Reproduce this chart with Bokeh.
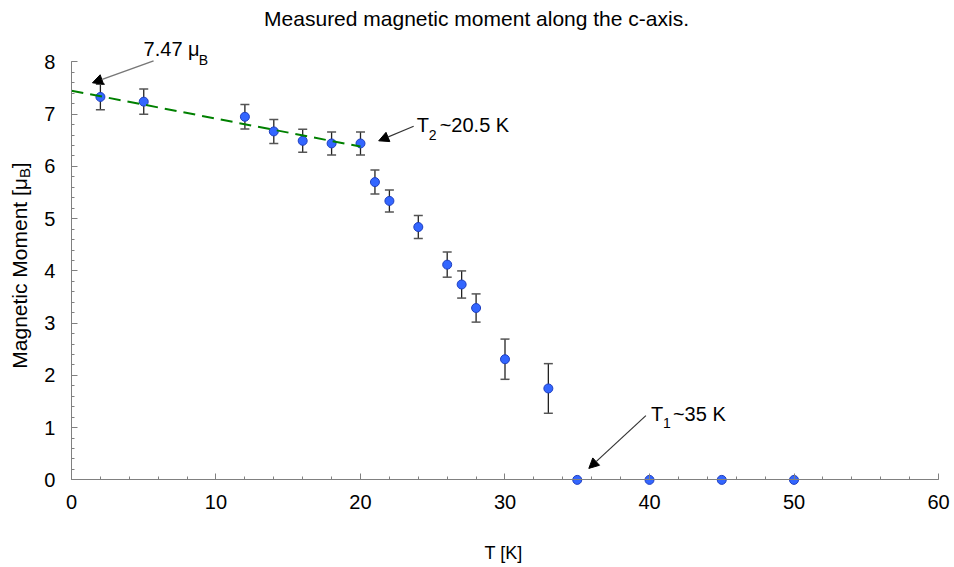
import numpy as np
from bokeh.plotting import figure
from bokeh.models import (ColumnDataSource, Whisker, TeeHead, Arrow, NormalHead, Label,
                          SingleIntervalTicker, Range1d)
from bokeh.embed import file_html
from bokeh.resources import INLINE

# ---- data ----
temperature = [2, 5, 12, 14, 16, 18, 20, 21, 22, 24, 26, 27, 28, 30, 33, 35, 40, 45, 50]
moment = [7.33, 7.24, 6.95, 6.67, 6.49, 6.44, 6.44, 5.70, 5.34, 4.84, 4.12, 3.74, 3.29,
          2.31, 1.75, 0.0, 0.0, 0.0, 0.0]
moment_err = [0.245, 0.24, 0.235, 0.23, 0.22, 0.22, 0.22, 0.23, 0.21, 0.22, 0.24, 0.26, 0.27,
              0.385, 0.475, 0.0, 0.0, 0.0, 0.0]
fit_T = [0, 20]
fit_moment = [7.45, 6.38]

FONT = "Liberation Sans"

# The frame covers the whole canvas; axes are pinned at the origin with bounds.
p = figure(width=954, height=567, x_range=Range1d(-4.913, 61.107), y_range=Range1d(-1.677, 9.176),
           output_backend="svg", toolbar_location=None,
           min_border_left=0, min_border_right=0, min_border_top=0, min_border_bottom=0)
p.outline_line_color = None
p.xgrid.visible = False
p.ygrid.visible = False
p.background_fill_color = "white"
p.border_fill_color = "white"

p.xaxis.ticker = SingleIntervalTicker(interval=10, num_minor_ticks=5)
p.yaxis.ticker = SingleIntervalTicker(interval=1, num_minor_ticks=5)
p.xaxis.fixed_location = 0
p.yaxis.fixed_location = 0
p.xaxis.bounds = (0, 60)
p.yaxis.bounds = (0, 8)
for ax in (p.xaxis[0], p.yaxis[0]):
    ax.axis_line_color = "#808080"
    ax.major_tick_line_color = "#808080"
    ax.minor_tick_line_color = "#808080"
    ax.major_tick_in = 6
    ax.major_tick_out = 0
    ax.minor_tick_in = 3
    ax.minor_tick_out = 0
    ax.major_label_text_font = FONT
    ax.major_label_text_font_size = "20px"
    ax.major_label_text_color = "black"
p.xaxis.major_label_standoff = 15
p.yaxis.major_label_standoff = 16

# error bars
err_T = [t for t, e in zip(temperature, moment_err) if e > 0]
err_up = [m + e for m, e in zip(moment, moment_err) if e > 0]
err_lo = [m - e for m, e in zip(moment, moment_err) if e > 0]
esrc = ColumnDataSource(dict(x=err_T, upper=err_up, lower=err_lo))
p.add_layout(Whisker(base="x", upper="upper", lower="lower", source=esrc,
                     line_color="#222222", line_width=1.3,
                     upper_head=TeeHead(size=9, line_color="#555555", line_width=1.5),
                     lower_head=TeeHead(size=9, line_color="#555555", line_width=1.5)))

src = ColumnDataSource(dict(x=temperature, y=moment))
p.scatter("x", "y", source=src, size=9, fill_color="#3366FF", line_color="#1f3fbf", line_width=1)

p.line(fit_T, fit_moment, line_color="#008000", line_width=2, line_dash="12 7")

# arrows
p.add_layout(Arrow(x_start=5.68, y_start=8.02, x_end=1.45, y_end=7.60,
                   line_color="#777777", line_width=1.5,
                   end=NormalHead(size=10, fill_color="black", line_color="black")))
p.add_layout(Arrow(x_start=23.68, y_start=6.77, x_end=21.26, y_end=6.49,
                   line_color="#333333", line_width=1.2,
                   end=NormalHead(size=10, fill_color="black", line_color="black")))
p.add_layout(Arrow(x_start=39.75, y_start=1.23, x_end=35.8, y_end=0.22,
                   line_color="#333333", line_width=1.2,
                   end=NormalHead(size=10, fill_color="black", line_color="black")))

def lab(x, y, text, size="20px", **kw):
    p.add_layout(Label(x=x, y=y, text=text, text_font=FONT, text_font_size=size,
                       text_color="black", text_baseline="alphabetic", **kw))

# annotations
lab(4.99, 8.243, "7.47 \u03bc")
lab(8.80, 8.035, "B", "14px")
lab(23.89, 6.793, "T")
lab(24.72, 6.605, "2", "14px")
lab(25.48, 6.793, "~20.5 K")
lab(40.10, 1.268, "T")
lab(40.93, 1.095, "1", "14px")
lab(41.62, 1.268, "~35 K")

# title and axis titles
lab(28.03, 8.84, "Measured magnetic moment along the c-axis.", "21px", text_align="center")
lab(29.9, -1.39, "T [K]", "18px", text_align="center")
lab(-3.59, 2.128, "Magnetic Moment [\u03bc", "21px", angle=np.pi / 2)
lab(-3.24, 5.777, "B", "15px", angle=np.pi / 2)
lab(-3.59, 5.966, "]", "21px", angle=np.pi / 2)

open("out.html", "w").write(file_html(p, INLINE))
